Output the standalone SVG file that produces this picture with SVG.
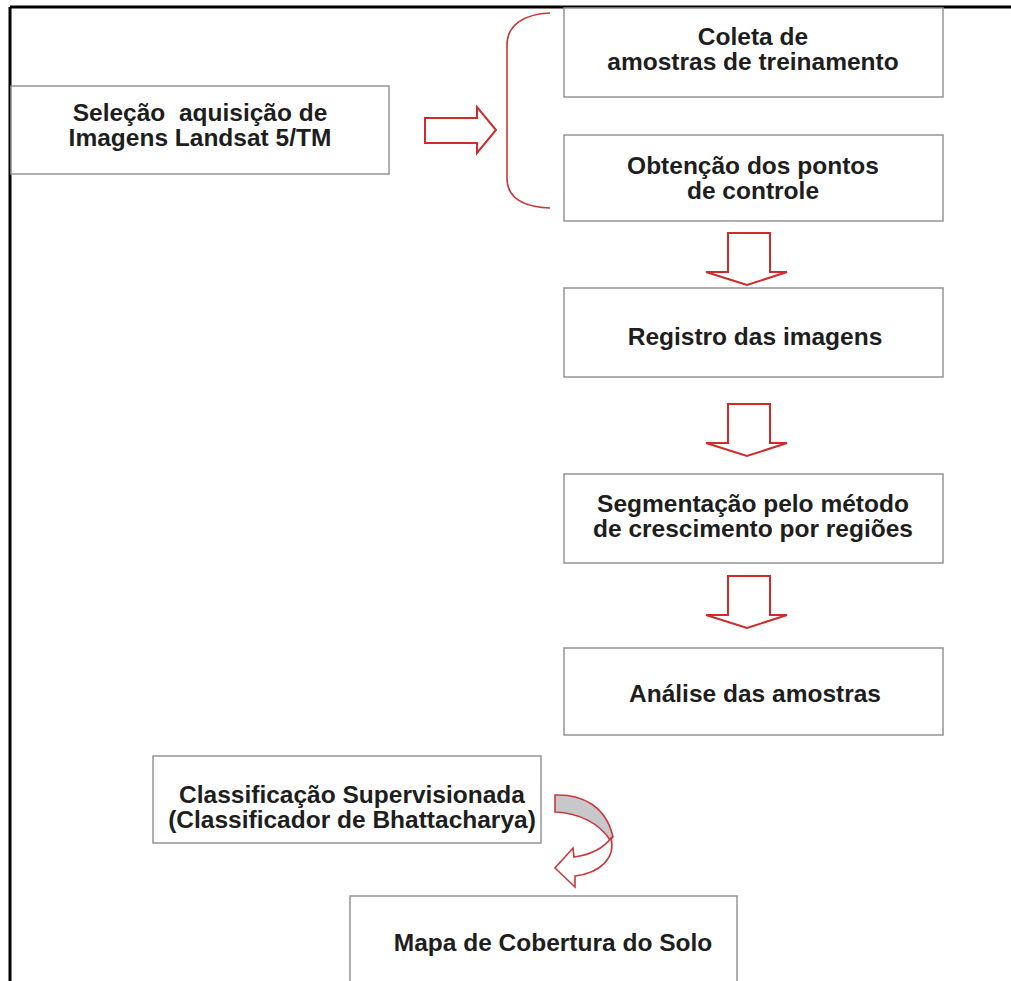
<svg xmlns="http://www.w3.org/2000/svg" width="1011" height="981" viewBox="0 0 1011 981">
  <style>
    .box { fill: #ffffff; stroke: #949494; stroke-width: 1.5; }
    .lbl { font-family: "Liberation Sans", Arial, sans-serif; font-weight: bold; font-size: 24.5px; fill: #1e1e1e; text-anchor: middle; }
    .arr { fill: #ffffff; stroke: #d02a2a; stroke-width: 2; stroke-linejoin: miter; }
    .brace { fill: none; stroke: #c83a3a; stroke-width: 1.6; }
  </style>
  <rect x="0" y="0" width="1011" height="981" fill="#ffffff"/>
  <g id="frame">
    <line x1="10" y1="7" x2="1011" y2="7" stroke="#000" stroke-width="3"/>
    <line x1="10" y1="7" x2="10" y2="981" stroke="#000" stroke-width="3"/>
  </g>
  <g id="connectors">
    <path class="arr" d="M425,118 L477,118 L477,107 L496,130 L477,153 L477,143 L425,143 Z"/>
    <path class="brace" d="M550,13 C524,14 507,25 507,45 L507,178 C507,198 524,207 550,208"/>
    <path class="arr" d="M728,233 L770,233 L770,272 L787,272 L747,285 L706,272 L728,272 Z"/>
    <path class="arr" d="M728,404 L770,404 L770,443 L787,443 L747,456 L706,443 L728,443 Z"/>
    <path class="arr" d="M728,576 L770,576 L770,615 L787,615 L747,628 L706,615 L728,615 Z"/>
    <path d="M555,795 C582,794 606,806 613,837 L610,840 C600,824 580,813 555,812 Z" fill="#c8c8cc" stroke="#c83a3a" stroke-width="1.6"/>
    <path d="M611,838 C616,858 600,873 575,876 L575,887 L555,868 L573,848 L574,857 C590,855 604,848 611,838 Z" fill="#ffffff" stroke="#c83a3a" stroke-width="1.6"/>
  </g>
  <g id="node-selecao">
    <rect class="box" x="11" y="86" width="378" height="88"/>
    <text class="lbl" x="200" y="121" xml:space="preserve">Seleção  aquisição de</text>
    <text class="lbl" x="200" y="146">Imagens Landsat 5/TM</text>
  </g>
  <g id="node-coleta">
    <rect class="box" x="564" y="8" width="379" height="89"/>
    <text class="lbl" x="753" y="45">Coleta de</text>
    <text class="lbl" x="753" y="70">amostras de treinamento</text>
  </g>
  <g id="node-obtencao">
    <rect class="box" x="564" y="135" width="379" height="86"/>
    <text class="lbl" x="753" y="174">Obtenção dos pontos</text>
    <text class="lbl" x="753" y="199">de controle</text>
  </g>
  <g id="node-registro">
    <rect class="box" x="564" y="288" width="379" height="89"/>
    <text class="lbl" x="755" y="345">Registro das imagens</text>
  </g>
  <g id="node-segmentacao">
    <rect class="box" x="564" y="474" width="379" height="89"/>
    <text class="lbl" x="753" y="512">Segmentação pelo método</text>
    <text class="lbl" x="753" y="537">de crescimento por regiões</text>
  </g>
  <g id="node-analise">
    <rect class="box" x="564" y="648" width="379" height="87"/>
    <text class="lbl" x="755" y="702">Análise das amostras</text>
  </g>
  <g id="node-classificacao">
    <rect class="box" x="153" y="756" width="388" height="87"/>
    <text class="lbl" x="352" y="803">Classificação Supervisionada</text>
    <text class="lbl" x="352" y="828">(Classificador de Bhattacharya)</text>
  </g>
  <g id="node-mapa">
    <rect class="box" x="350" y="896" width="387" height="100"/>
    <text class="lbl" x="553" y="951">Mapa de Cobertura do Solo</text>
  </g>
</svg>
